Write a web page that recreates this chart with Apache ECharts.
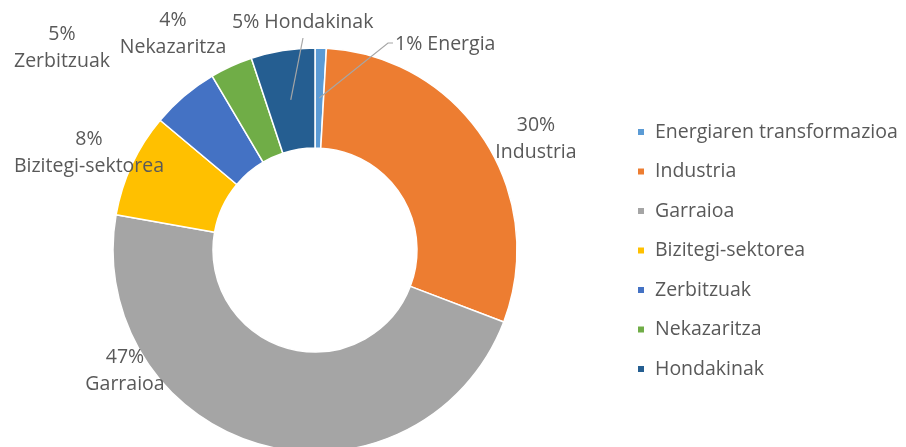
<!DOCTYPE html>
<html>
<head>
<meta charset="UTF-8">
<script src="https://cdn.jsdelivr.net/npm/echarts@6/dist/echarts.min.js"></script>
<style>
  html, body { margin: 0; padding: 0; background: #fff; }
</style>
</head>
<body>
<div id="main" style="width: 906px; height: 447px;"></div>
<script>
// sektoreak (legend names)
var categories = ['Energiaren transformazioa', 'Industria', 'Garraioa', 'Bizitegi-sektorea', 'Zerbitzuak', 'Nekazaritza', 'Hondakinak'];
// slice sizes as drawn in the picture (%)
var values = [0.9, 29.9, 47.0, 8.3, 5.4, 3.4, 5.1];
// text shown on the labels
var pctLabels = ['1%', '30%', '47%', '8%', '5%', '4%', '5%'];
var labelNames = ['Energia', 'Industria', 'Garraioa', 'Bizitegi-sektorea', 'Zerbitzuak', 'Nekazaritza', 'Hondakinak'];

var colors = ['#5B9BD5', '#ED7D31', '#A5A5A5', '#FFC000', '#4472C4', '#70AD47', '#255E91'];
var fontFam = 'Open Sans';
var fontSz = 19.5;

// where each label sits (x, y, align)
var labelPos = [
    { x: 395, y: 44, align: 'left' },
    { x: 536, y: 139, align: 'center' },
    { x: 125, y: 371, align: 'center' },
    { x: 89, y: 153, align: 'center' },
    { x: 62, y: 48, align: 'center' },
    { x: 173, y: 34, align: 'center' },
    { x: 232, y: 22, align: 'left' }
];
// leader lines: from the slice to these label points
var leaderEnds = {
    0: [[388, 43], [393, 43]],
    6: [[303, 38]]
};

var myChart = echarts.init(document.getElementById('main'));

var data = [];
for (var i = 0; i < categories.length; i++) {
    data.push({ name: categories[i], value: values[i] });
}

var option = {
    animation: false,
    color: colors,
    legend: {
        orient: 'vertical',
        left: 636,
        top: 122,
        padding: 0,
        icon: 'rect',
        itemWidth: 8,
        itemHeight: 8,
        itemGap: 19.5,
        textStyle: { color: '#595959', fontSize: fontSz, fontFamily: fontFam, lineHeight: 20, padding: [0, 0, 0, 5] },
        data: categories
    },
    series: [{
        type: 'pie',
        center: [315, 250],
        radius: [102, 202],
        startAngle: 90,
        clockwise: true,
        avoidLabelOverlap: false,
        itemStyle: { borderColor: '#fff', borderWidth: 1.5 },
        label: {
            show: true,
            position: 'outside',
            color: '#595959',
            fontSize: fontSz,
            fontFamily: fontFam,
            lineHeight: 27,
            formatter: function (p) {
                var i = p.dataIndex;
                if (i === 0 || i === 6) return pctLabels[i] + ' ' + labelNames[i];
                return pctLabels[i] + '\n' + labelNames[i];
            }
        },
        labelLine: { show: false },
        labelLayout: function (params) {
            var p = labelPos[params.dataIndex];
            return { x: p.x, y: p.y, align: p.align, verticalAlign: 'middle' };
        },
        data: data
    }]
};
myChart.setOption(option);

// draw leader lines starting mid-ring at each slice's middle angle
var seriesData = myChart.getModel().getSeriesByIndex(0).getData();
var lines = [];
Object.keys(leaderEnds).forEach(function (k) {
    var lay = seriesData.getItemLayout(+k);
    var a = (lay.startAngle + lay.endAngle) / 2;
    var rm = (lay.r + lay.r0) / 2;
    var pts = [[lay.cx + rm * Math.cos(a), lay.cy + rm * Math.sin(a)]].concat(leaderEnds[k]);
    lines.push({
        type: 'polyline',
        shape: { points: pts },
        style: { stroke: '#a6a6a6', lineWidth: 1.2, fill: null },
        z: 10
    });
});
myChart.setOption({ graphic: lines });
</script>
</body>
</html>
